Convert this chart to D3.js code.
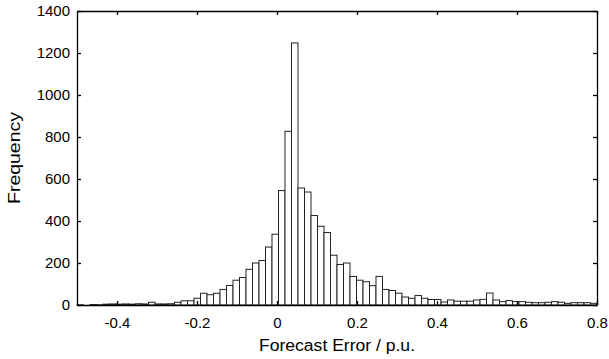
<!DOCTYPE html>
<html>
<head>
<meta charset="utf-8">
<script src="https://cdn.jsdelivr.net/npm/d3@7"></script>
<style>
  html, body { margin: 0; padding: 0; background: #fff; }
  svg { display: block; }
  text { font-family: "Liberation Sans", Arial, sans-serif; fill: #000; }
</style>
</head>
<body>
<svg id="chart" width="609" height="359"></svg>
<script>
// Histogram of forecast errors: 80 equal-width bins spanning -0.5 … 0.8 p.u.
const binStart = -0.5;
const binEnd = 0.8;
const counts = [
  1, 0, 2, 1, 4, 5, 4, 5, 4, 6,
  5, 13, 5, 5, 6, 13, 20, 20, 32, 56,
  49, 56, 74, 93, 118, 131, 170, 200, 212, 276,
  337, 545, 827, 1248, 557, 538, 426, 375, 345, 237,
  193, 200, 136, 118, 111, 92, 136, 74, 69, 56,
  38, 32, 45, 32, 26, 26, 14, 24, 18, 18,
  18, 24, 27, 57, 24, 16, 21, 16, 16, 13,
  11, 11, 13, 16, 13, 8, 11, 11, 11, 8
];
const xTicks = [-0.4, -0.2, 0, 0.2, 0.4, 0.6, 0.8];
const yTicks = [0, 200, 400, 600, 800, 1000, 1200, 1400];
const xLabel = "Forecast Error / p.u.";
const yLabel = "Frequency";

const svg = d3.select("#chart");
const plotLeft = 77, plotRight = 597, plotTop = 11, plotBottom = 305;

const x = d3.scaleLinear().domain([binStart, binEnd]).range([plotLeft, plotRight]);
const y = d3.scaleLinear().domain([0, 1400]).range([plotBottom, plotTop]);

const binWidth = (binEnd - binStart) / counts.length;
const bins = counts.map((c, i) => ({
  x0: binStart + i * binWidth,
  x1: binStart + (i + 1) * binWidth,
  count: c
}));

// bars
svg.append("g")
  .selectAll("rect")
  .data(bins)
  .join("rect")
  .attr("x", d => x(d.x0))
  .attr("y", d => y(d.count))
  .attr("width", d => x(d.x1) - x(d.x0))
  .attr("height", d => y(0) - y(d.count))
  .attr("fill", "#fff")
  .attr("stroke", "#222")
  .attr("stroke-width", 1);

// frame with inward ticks on all four sides
const tickLen = 4;
// plain hyphen for negative numbers
const fmtX = d => d === 0 ? "0" : d.toFixed(1);

const axBottom = svg.append("g").attr("transform", `translate(0,${plotBottom})`)
  .call(d3.axisBottom(x).tickValues(xTicks).tickFormat(fmtX).tickSizeInner(-tickLen).tickSizeOuter(0).tickPadding(12));
const axTop = svg.append("g").attr("transform", `translate(0,${plotTop})`)
  .call(d3.axisTop(x).tickValues(xTicks).tickFormat("").tickSizeInner(-tickLen).tickSizeOuter(0));
const axLeft = svg.append("g").attr("transform", `translate(${plotLeft},0)`)
  .call(d3.axisLeft(y).tickValues(yTicks).tickFormat(d3.format("d")).tickSizeInner(-tickLen).tickSizeOuter(0).tickPadding(7));
const axRight = svg.append("g").attr("transform", `translate(${plotRight},0)`)
  .call(d3.axisRight(y).tickValues(yTicks).tickFormat("").tickSizeInner(-tickLen).tickSizeOuter(0));

[axBottom, axTop, axLeft, axRight].forEach(g => {
  g.select(".domain").attr("stroke", "#000").attr("stroke-width", 1.3);
  g.selectAll(".tick line").attr("stroke", "#000").attr("stroke-width", 1.3);
  g.selectAll("text").attr("font-size", 15).attr("font-family", "Liberation Sans, Arial, sans-serif").attr("fill", "#000");
});

// axis titles (slightly widened lettering)
svg.append("text")
  .attr("x", (plotLeft + plotRight) / 2)
  .attr("y", 351)
  .attr("text-anchor", "middle")
  .attr("font-size", 16)
  .attr("textLength", 156)
  .attr("lengthAdjust", "spacingAndGlyphs")
  .text(xLabel);

svg.append("text")
  .attr("transform", `translate(20,158) rotate(-90)`)
  .attr("text-anchor", "middle")
  .attr("font-size", 16)
  .attr("textLength", 92)
  .attr("lengthAdjust", "spacingAndGlyphs")
  .text(yLabel);
</script>
</body>
</html>
